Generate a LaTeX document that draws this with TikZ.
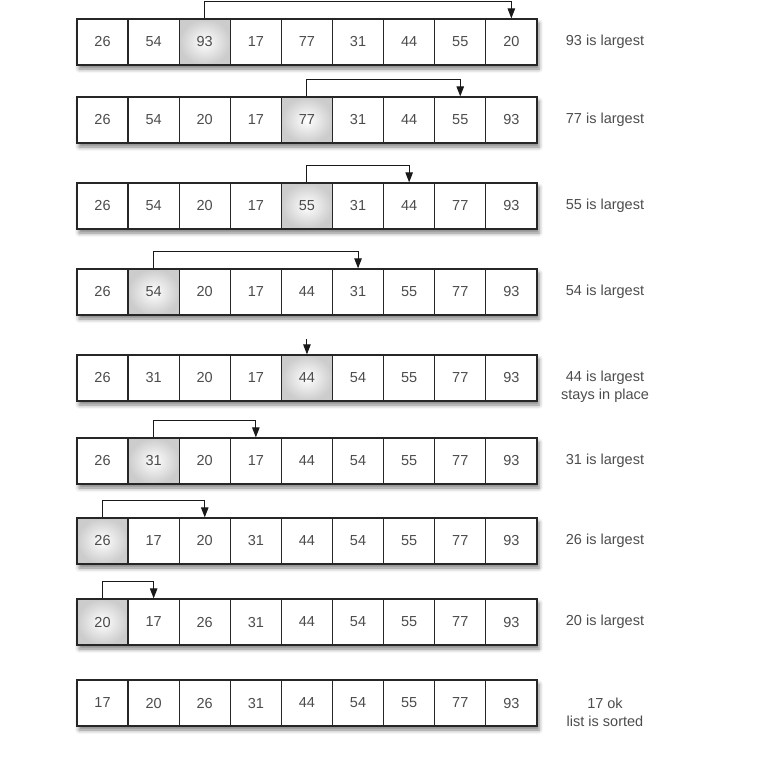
\documentclass[tikz,border=0pt]{standalone}
\usepackage{fontspec}
\setmainfont{Liberation Sans}
\usetikzlibrary{arrows.meta,shadows.blur}

\begin{document}
\begin{tikzpicture}[x=1pt,y=-1pt,
  cell/.style={draw=black!85,line width=1.3pt,minimum width=51.1pt,minimum height=46pt,inner sep=0pt,fill=white,text=black!70,font=\fontsize{14.5}{17}\selectfont},
  big/.style={cell,shading=radial,inner color=white,outer color=black!20},
  note/.style={align=center,text=black!70,font=\fontsize{14.5}{18}\selectfont},
  swap/.style={-{Triangle[length=10pt,width=7.5pt]},line width=1pt,black!90}]

  \useasboundingbox (0,0) rectangle (764,774);

  \def\xl{77} \def\dx{51.1} \def\xr{537}

  % Rows: number/center/values/largest/target/label/label shift
  \foreach \r/\y/\vals/\hi/\lo/\txt/\dy in {
    1/42/{26,54,93,17,77,31,44,55,20}/3/9/{93 is largest}/0,
    2/120/{26,54,20,17,77,31,44,55,93}/5/8/{77 is largest}/0,
    3/206/{26,54,20,17,55,31,44,77,93}/5/7/{55 is largest}/0,
    4/292/{26,54,20,17,44,31,55,77,93}/2/6/{54 is largest}/0,
    5/378/{26,31,20,17,44,54,55,77,93}/5/5/{44 is largest\\stays in place}/9,
    6/461/{26,31,20,17,44,54,55,77,93}/2/4/{31 is largest}/0,
    7/541/{26,17,20,31,44,54,55,77,93}/1/3/{26 is largest}/0,
    8/622/{20,17,26,31,44,54,55,77,93}/1/2/{20 is largest}/0,
    9/703/{17,20,26,31,44,54,55,77,93}/0/0/{17 ok\\list is sorted}/9} {

    % Shadow under the row
    \path[blur shadow={shadow xshift=2pt,shadow yshift=-4pt,shadow blur radius=4pt,shadow opacity=50}]
      (\xl,\y-23) rectangle (\xr,\y+23);

    % Cells
    \foreach \v [count=\c] in \vals {
      \ifnum\c=\hi \def\sty{big}\else\def\sty{cell}\fi
      \node[\sty] (b\r-\c) at (\xl+\dx*\c-\dx/2,\y) {\v};
    }

    % Label
    \node[note] (t\r) at (605,\y+\dy) {\txt};

    % Exchange
    \ifnum\hi>0
      \ifnum\hi=\lo
        \coordinate (s\r) at ([yshift=15pt]b\r-\hi.north);
        \draw[swap] (s\r) -- (b\r-\hi.north);
      \else
        \draw[swap] (b\r-\hi.north) -- ++(0,-17) -| (b\r-\lo.north);
      \fi
    \fi
  }

\end{tikzpicture}
\end{document}
